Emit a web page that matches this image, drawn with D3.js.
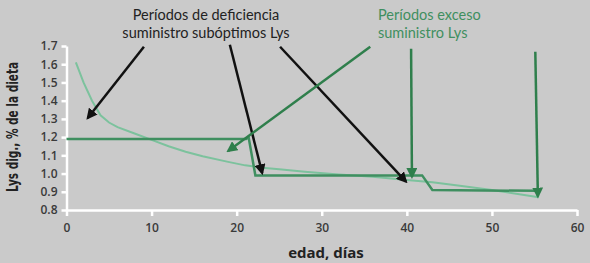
<!DOCTYPE html>
<html>
<head>
<meta charset="utf-8">
<script src="https://cdn.jsdelivr.net/npm/d3@7"></script>
<style>
  body { margin: 0; background: #cacaca; }
  svg { display: block; }
  .tick text { font-family: "Open Sans", sans-serif; font-weight: 600; font-size: 12px; fill: #3a3a3a; }
</style>
</head>
<body>
<script>
// curva de requerimiento (verde claro) y suministro por fases (verde oscuro)
var reqDays = [1.1, 2, 3, 4, 5, 6, 8, 10, 12, 14, 16, 19, 21, 23, 25, 28, 32, 36, 40, 43, 46, 50, 55.5];
var reqLys  = [1.61, 1.50, 1.40, 1.32, 1.28, 1.255, 1.22, 1.185, 1.15, 1.12, 1.095, 1.064, 1.045, 1.032, 1.024, 1.01, 0.995, 0.982, 0.965, 0.952, 0.935, 0.91, 0.87];

var phaseDays = [0, 21.1, 21.4, 22.2, 41.8, 43, 55.3];
var phaseLys  = [1.19, 1.19, 1.20, 0.99, 0.99, 0.91, 0.905];

var xTicks = [0, 10, 20, 30, 40, 50, 60];
var yTicks = [0.8, 0.9, 1.0, 1.1, 1.2, 1.3, 1.4, 1.5, 1.6, 1.7];

// flechas de las notas: [x0, y0, x1, y1] en unidades del grafico
var blackArrows = [[9.1, 1.696, 2.5, 1.305], [19.2, 1.707, 23.0, 1.003], [25.1, 1.696, 39.9, 0.956]];
var greenArrows = [[35.7, 1.696, 19.0, 1.124], [40.5, 1.685, 40.6, 0.982], [55.1, 1.668, 55.4, 0.875]];

var width = 590, height = 263;

var svg = d3.select("body").append("svg")
            .attr("width", width)
            .attr("height", height);

svg.append("rect")
   .attr("width", width)
   .attr("height", height)
   .attr("fill", "#cacaca");

var x = d3.scaleLinear().domain([0, 60]).range([66.5, 577]);
var y = d3.scaleLinear().domain([0.8, 1.7]).range([210, 46]);

var defs = svg.append("defs");
function addMarker(id, color){
	defs.append("marker")
		.attr("id", id)
		.attr("viewBox", "0 0 10 10")
		.attr("refX", 8)
		.attr("refY", 5)
		.attr("markerUnits", "userSpaceOnUse")
		.attr("markerWidth", 11)
		.attr("markerHeight", 11)
		.attr("orient", "auto")
	  .append("path")
		.attr("d", "M0,0 L10,5 L0,10 z")
		.attr("fill", color);
}
addMarker("headBlack", "#111");
addMarker("headGreen", "#2f7f4c");

// ejes
var xAxis = svg.append("g")
	.attr("transform", "translate(0," + y(0.8) + ")")
	.call(d3.axisBottom(x).tickValues(xTicks).tickSize(6).tickSizeOuter(0).tickPadding(7));
var yAxis = svg.append("g")
	.attr("transform", "translate(" + x(0) + ",0)")
	.call(d3.axisLeft(y).tickValues(yTicks).tickSize(5).tickSizeOuter(0).tickPadding(4)
	       .tickFormat(d3.format(".1f")));

[xAxis, yAxis].forEach(function(a){
	a.select(".domain").attr("stroke", "#fff").attr("stroke-width", 2.5);
	a.selectAll(".tick line").attr("stroke", "#fff").attr("stroke-width", 2.5);
});

// lineas
var line = d3.line().x(function(d){ return x(d[0]); }).y(function(d){ return y(d[1]); });

svg.append("path")
   .datum(reqDays.map(function(d, i){ return [d, reqLys[i]]; }))
   .attr("d", line)
   .attr("fill", "none")
   .attr("stroke", "#7cc29d")
   .attr("stroke-width", 2);

svg.append("path")
   .datum(phaseDays.map(function(d, i){ return [d, phaseLys[i]]; }))
   .attr("d", line)
   .attr("fill", "none")
   .attr("stroke", "#3f8f60")
   .attr("stroke-width", 2.5);

// flechas
function drawArrows(list, color, marker){
	svg.selectAll(null)
	   .data(list)
	   .enter().append("line")
	   .attr("x1", function(d){ return x(d[0]); })
	   .attr("y1", function(d){ return y(d[1]); })
	   .attr("x2", function(d){ return x(d[2]); })
	   .attr("y2", function(d){ return y(d[3]); })
	   .attr("stroke", color)
	   .attr("stroke-width", 2.5)
	   .attr("marker-end", "url(#" + marker + ")");
}
drawArrows(blackArrows, "#111", "headBlack");
drawArrows(greenArrows, "#2f7f4c", "headGreen");

// textos
function addNote(lines, xPos, anchor, color){
	lines.forEach(function(t, i){
		svg.append("text")
		   .attr("x", xPos)
		   .attr("y", 20 + i * 17.5)
		   .attr("text-anchor", anchor)
		   .attr("font-family", "Lato, sans-serif")
		   .attr("font-size", 14.5)
		   .attr("fill", color)
		   .text(t);
	});
}
addNote(["Períodos de deficiencia", "suministro subóptimos Lys"], 206, "middle", "#222");
addNote(["Períodos exceso", "suministro Lys"], 378, "start", "#3f8f60");

svg.append("text")
   .attr("x", 326)
   .attr("y", 258)
   .attr("text-anchor", "middle")
   .attr("font-family", "Open Sans, sans-serif")
   .attr("font-weight", "bold")
   .attr("font-size", 15)
   .attr("fill", "#222")
   .text("edad, días");

svg.append("text")
   .attr("transform", "translate(18,127) rotate(-90)")
   .attr("text-anchor", "middle")
   .attr("font-family", "DejaVu Sans Condensed, sans-serif")
   .attr("font-weight", "bold")
   .attr("font-size", 15)
   .attr("fill", "#222")
   .attr("textLength", 130)
   .attr("lengthAdjust", "spacingAndGlyphs")
   .text("Lys dig., % de la dieta");
</script>
</body>
</html>
